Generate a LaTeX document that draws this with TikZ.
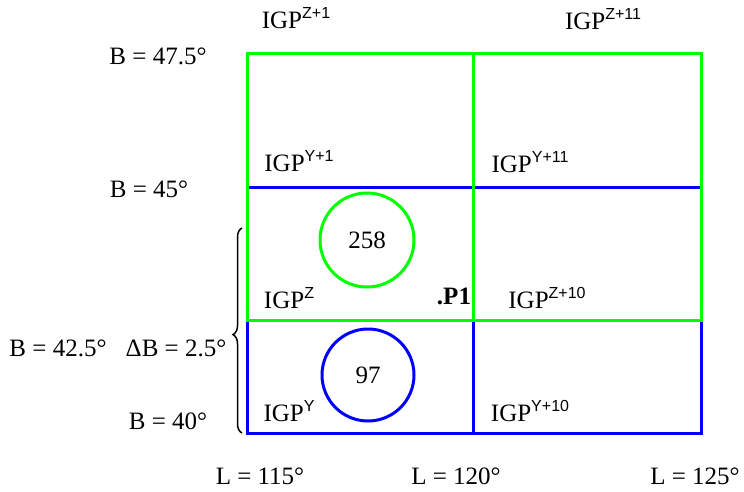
\documentclass[tikz,border=0pt]{standalone}
\usepackage{fontspec}
\setmainfont{Liberation Serif}
\newfontfamily\supfont{Liberation Sans}
\usetikzlibrary{decorations.pathreplacing}
\definecolor{gline}{RGB}{0,255,0}
\definecolor{bline}{RGB}{0,0,255}
\newcommand{\igp}[1]{IGP\raisebox{0.42em}{\supfont\fontsize{16}{16}\selectfont #1}}
\begin{document}
\begin{tikzpicture}[x=1pt,y=-1pt,
  lbl/.style={inner sep=0pt,font=\fontsize{25}{25}\selectfont},
  gl/.style={draw=gline,line width=3pt},
  bl/.style={draw=bline,line width=3pt}]
\useasboundingbox (0,0) rectangle (744,491);
% coordinates
\coordinate (a1) at (247,53); \coordinate (a2) at (473,53); \coordinate (a3) at (701,53);
\coordinate (b1) at (247,187); \coordinate (b3) at (701,187);
\coordinate (c1) at (247,320); \coordinate (c2) at (473,320); \coordinate (c3) at (701,320);
\coordinate (d1) at (247,433); \coordinate (d2) at (473,433); \coordinate (d3) at (701,433);
% blue lines
\draw[bl] (b1) -- (b3);
\draw[bl] (c1) -- (d1) -- (d3) -- (c3);
\draw[bl] (c2) -- (d2);
% green lines
\draw[gl] (c1) -- (a1) -- (a3) -- (c3) -- cycle;
\draw[gl] (a2) -- (c2);
% circles
\node[circle,draw=gline,line width=3pt,minimum size=94pt,inner sep=0pt,lbl] (c258) at (367,240) {258};
\node[circle,draw=bline,line width=3pt,minimum size=92pt,inner sep=0pt,lbl] (c97) at (368,375) {97};
% labels
\node[lbl] (t1) at (296,18) {\igp{Z+1}};
\node[lbl] (t2) at (603,19) {\igp{Z+11}};
\node[lbl] (b475) at (158,56) {B = 47.5°};
\node[lbl] (t3) at (299,161) {\igp{Y+1}};
\node[lbl] (t4) at (530,162) {\igp{Y+11}};
\node[lbl] (b45) at (149,189) {B = 45°};
\node[lbl] (t5) at (289,298) {\igp{Z}};
\node[lbl,font=\fontsize{25}{25}\selectfont\bfseries] (p1) at (454,296) {.P1};
\node[lbl] (t6) at (547,298) {\igp{Z+10}};
\node[lbl] (b425) at (58,348) {B = 42.5°};
\node[lbl] (db) at (176,348) {ΔB = 2.5°};
\node[lbl] (t7) at (289,411) {\igp{Y}};
\node[lbl] (t8) at (530,411) {\igp{Y+10}};
\node[lbl] (b40) at (168,421) {B = 40°};
\node[lbl] (l115) at (260,476) {L = 115°};
\node[lbl] (l120) at (456,476) {L = 120°};
\node[lbl] (l125) at (695,476) {L = 125°};
% brace
\coordinate (br1) at (242,433); \coordinate (br2) at (242,228);
\draw[line width=1.5pt,decorate,decoration={brace,amplitude=9pt,aspect=0.48}] (br1) -- (br2);
\end{tikzpicture}
\end{document}
